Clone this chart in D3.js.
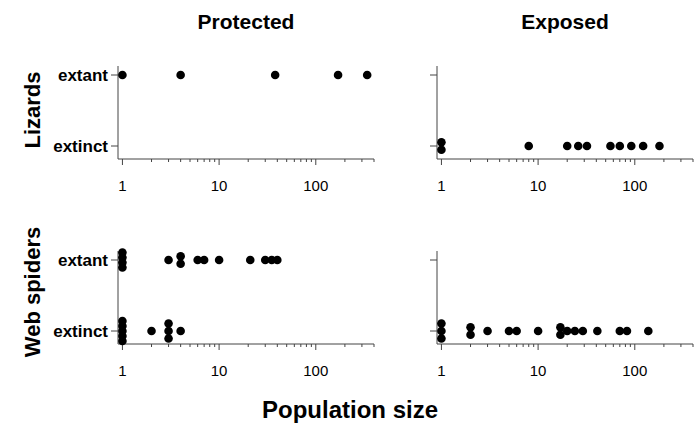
<!DOCTYPE html>
<html>
<head>
<meta charset="utf-8">
<script src="https://cdn.jsdelivr.net/npm/d3@7"></script>
<style>
  body { margin: 0; background: #fff; }
  svg { display: block; font-family: "Liberation Sans", Arial, sans-serif; }
</style>
</head>
<body>
<svg id="chart" width="695" height="428"></svg>
<script>
// data (population size per site)
var columns = ["Protected", "Exposed"]
var rows = ["Lizards", "Web spiders"]
var statuses = ["extant", "extinct"]
var tickValues = [1, 10, 100]

var lizardsProtectedExtant = [1, 4, 38, 170, 340]
var lizardsProtectedExtinct = []
var lizardsExposedExtant = []
var lizardsExposedExtinct = [1, 1, 8, 20, 26, 32, 56, 70, 92, 122, 180]
var spidersProtectedExtant = [1, 1, 1, 1, 3, 4, 4, 6, 7, 10, 21, 30, 35, 40]
var spidersProtectedExtinct = [1, 1, 1, 1, 1, 2, 3, 3, 3, 4]
var spidersExposedExtant = []
var spidersExposedExtinct = [1, 1, 1, 2, 2, 3, 5, 6, 10, 17, 17, 20, 24, 29, 41, 70, 83, 138]

var panels = [
  {row: 0, col: 0, extant: lizardsProtectedExtant, extinct: lizardsProtectedExtinct},
  {row: 0, col: 1, extant: lizardsExposedExtant, extinct: lizardsExposedExtinct},
  {row: 1, col: 0, extant: spidersProtectedExtant, extinct: spidersProtectedExtinct},
  {row: 1, col: 1, extant: spidersExposedExtant, extinct: spidersExposedExtinct}
]

var svg = d3.select("#chart")
var colX = [118, 437]
var rowTop = [66, 251]
var panelW = 256
var axisColor = "#444"

var minorTicks = [2,3,4,5,6,7,8,9,20,30,40,50,60,70,80,90,200,300,400]

panels.forEach(function(p){
  var x0 = colX[p.col], top = rowTop[p.row]
  var x = d3.scaleLog().domain([0.9, 400]).range([x0, x0 + panelW])
  var y = d3.scalePoint().domain(statuses).range([top + 9, top + 80])
  var base = top + 93
  var g = svg.append("g")

  // y axis
  g.append("line").attr("x1", x0).attr("x2", x0).attr("y1", top).attr("y2", base)
    .attr("stroke", axisColor)
  g.selectAll(".ytick").data(statuses).enter().append("line")
    .attr("x1", x0 - 7).attr("x2", x0)
    .attr("y1", function(d){ return y(d) }).attr("y2", function(d){ return y(d) })
    .attr("stroke", axisColor)
  if (p.col === 0) {
    g.selectAll(".ylab").data(statuses).enter().append("text")
      .attr("x", x0 - 10).attr("y", function(d){ return y(d) })
      .attr("dy", "0.35em").attr("text-anchor", "end")
      .attr("font-size", 17).attr("font-weight", "bold")
      .text(function(d){ return d })
  }

  // x axis, ticks pointing down
  g.append("line").attr("x1", x0).attr("x2", x0 + panelW).attr("y1", base).attr("y2", base)
    .attr("stroke", axisColor)
  g.selectAll(".major").data(tickValues).enter().append("line")
    .attr("x1", function(d){ return x(d) }).attr("x2", function(d){ return x(d) })
    .attr("y1", base).attr("y2", base + 6).attr("stroke", axisColor)
  g.selectAll(".minor").data(minorTicks).enter().append("line")
    .attr("x1", function(d){ return x(d) }).attr("x2", function(d){ return x(d) })
    .attr("y1", base).attr("y2", base + 3).attr("stroke", axisColor)
  g.selectAll(".xlab").data(tickValues).enter().append("text")
    .attr("x", function(d){ return x(d) }).attr("y", base + 32)
    .attr("text-anchor", "middle").attr("font-size", 15)
    .text(function(d){ return d })

  // dots, identical values stacked vertically
  statuses.forEach(function(s){
    var groups = d3.groups(p[s], function(d){ return d })
    var pts = []
    groups.forEach(function(gr){
      var n = gr[1].length
      var step = n <= 3 ? 7.5 : 5
      gr[1].forEach(function(v, i){
        pts.push({v: v, dy: (i - (n - 1) / 2) * step})
      })
    })
    g.selectAll(null).data(pts).enter().append("circle")
      .attr("cx", function(d){ return x(d.v) })
      .attr("cy", function(d){ return y(s) + d.dy })
      .attr("r", 4.3).attr("fill", "#000")
  })
})

// column titles
svg.selectAll(".coltitle").data(columns).enter().append("text")
  .attr("x", function(d, i){ return colX[i] + panelW / 2 })
  .attr("y", 29).attr("text-anchor", "middle")
  .attr("font-size", 21).attr("font-weight", "bold")
  .text(function(d){ return d })

// row titles
svg.selectAll(".rowtitle").data(rows).enter().append("text")
  .attr("transform", function(d, i){ return "translate(40," + (i === 0 ? 110 : 292) + ") rotate(-90)" })
  .attr("text-anchor", "middle")
  .attr("font-size", 22).attr("font-weight", "bold")
  .text(function(d){ return d })

svg.append("text").attr("x", 350).attr("y", 418).attr("text-anchor", "middle")
  .attr("font-size", 24).attr("font-weight", "bold")
  .text("Population size")
</script>
</body>
</html>
